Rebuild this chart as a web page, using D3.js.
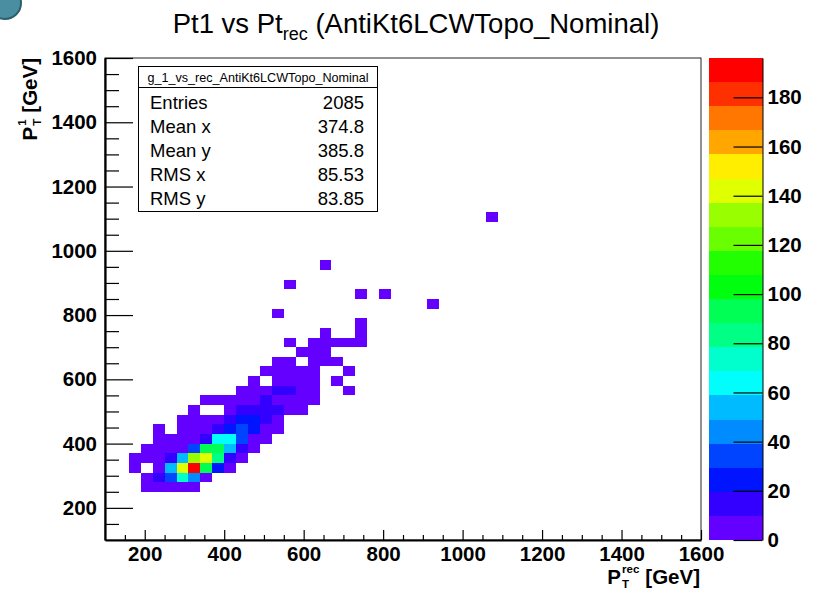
<!DOCTYPE html>
<html lang="en">
<head>
<meta charset="UTF-8">
<title>Pt1 vs Pt rec (AntiKt6LCWTopo_Nominal)</title>
<script src="https://d3js.org/d3.v7.min.js"></script>
<style>
  body { margin: 0; background: #fff; }
  svg text { font-family: "Liberation Sans", Arial, Helvetica, sans-serif; }
</style>
</head>
<body>
<svg width="817" height="591"></svg>
<script>

// bin width in GeV, same on both axes
var binWidth = 30;

// filled bins: [lower x edge, lower y edge, entries]
var cells = [
  [190,250,3],[220,250,5],[250,250,6],[280,250,5],[310,250,3],
  [190,280,6],[220,280,14],[250,280,34],[280,280,72],[310,280,44],[340,280,7],
  [160,310,4],[220,310,7],[250,310,53],[280,310,142],[310,310,196],[340,310,93],[370,310,24],[400,310,8],
  [160,340,3],[190,340,4],[220,340,8],[250,340,15],[280,340,52],[310,340,132],[340,340,140],[370,340,82],[400,340,13],[430,340,6],
  [190,370,2],[220,370,5],[250,370,7],[280,370,9],[310,370,36],[340,370,90],[370,370,94],[400,370,55],[430,370,17],[460,370,5],
  [220,400,3],[250,400,6],[280,400,8],[310,400,9],[340,400,18],[370,400,63],[400,400,65],[430,400,32],[460,400,8],[490,400,3],
  [220,430,2],[280,430,4],[310,430,7],[340,430,9],[370,430,16],[400,430,26],[430,430,31],[460,430,22],[490,430,7],[520,430,3],
  [280,460,3],[310,460,6],[340,460,8],[370,460,9],[400,460,15],[430,460,23],[460,460,21],[490,460,12],[520,460,4],
  [310,490,2],[400,490,6],[430,490,12],[460,490,14],[490,490,11],[520,490,10],[550,490,5],[580,490,3],
  [340,520,2],[370,520,4],[400,520,6],[430,520,8],[460,520,9],[490,520,11],[520,520,8],[550,520,6],[580,520,4],[610,520,2],
  [430,550,3],[460,550,5],[490,550,8],[520,550,11],[550,550,10],[580,550,6],[610,550,3],[700,550,1],
  [460,580,1],[520,580,5],[550,580,7],[580,580,5],[610,580,2],[670,580,1],
  [490,610,2],[520,610,4],[550,610,6],[580,610,3],[610,610,2],[700,610,1],
  [520,640,2],[550,640,3],[610,640,3],[640,640,2],[670,640,1],
  [580,670,2],[610,670,3],[640,670,1],
  [550,700,1],[610,700,2],[640,700,2],[670,700,1],[700,700,1],[730,700,1],
  [640,730,1],[730,730,1],
  [730,760,1],
  [520,790,1],
  [910,820,1],
  [730,850,1],[790,850,1],
  [550,880,1],
  [640,940,1],
  [1060,1090,1]
];

var xTicks = [200, 400, 600, 800, 1000, 1200, 1400, 1600];
var yTicks = [200, 400, 600, 800, 1000, 1200, 1400, 1600];
var zTicks = [0, 20, 40, 60, 80, 100, 120, 140, 160, 180];

var statsTitle = "g_1_vs_rec_AntiKt6LCWTopo_Nominal";
var statsNames = ["Entries", "Mean x", "Mean y", "RMS x", "RMS y"];
var statsValues = ["2085", "374.8", "385.8", "85.53", "83.85"];

var svg = d3.select("svg");

var x = d3.scaleLinear().domain([100, 1600]).range([105, 701]);
var y = d3.scaleLinear().domain([100, 1600]).range([540, 58]);
var zMax = d3.max(cells, d => d[2]);
var z = d3.scaleLinear().domain([0, zMax]).range([540, 58]);

// ROOT default palette: 50 hues from violet to red, 20 contour levels
var nLevels = 20;
function levelColor(j) {
  var idx = Math.floor((j + 0.99) * 50 / nLevels);
  var hue = 280 - (idx + 1) * 280 / 50;
  return d3.hsl(hue, 1, 0.5).toString();
}
function cellColor(n) {
  var j = Math.min(nLevels - 1, Math.floor(0.01 + n * nLevels / zMax));
  return levelColor(j);
}

// corner decoration from the slide
svg.append("circle")
  .attr("cx", 5).attr("cy", 3).attr("r", 16)
  .attr("fill", "#4a8ea2").attr("stroke", "#2b5f6e").attr("stroke-width", 2);

// title
var title = svg.append("text")
  .attr("x", 416).attr("y", 33)
  .attr("text-anchor", "middle")
  .attr("font-size", 27.5);
title.append("tspan").text("Pt1 vs Pt");
title.append("tspan").attr("font-size", 18).attr("dy", 7).text("rec");
title.append("tspan").attr("dy", -7).text(" (AntiKt6LCWTopo_Nominal)");

// bins
svg.append("g")
  .selectAll("rect")
  .data(cells)
  .enter()
  .append("rect")
  .attr("x", d => x(d[0]))
  .attr("y", d => y(d[1] + binWidth))
  .attr("width", d => x(d[0] + binWidth) - x(d[0]))
  .attr("height", d => y(d[1]) - y(d[1] + binWidth))
  .attr("fill", d => cellColor(d[2]))
  .attr("shape-rendering", "crispEdges");

// frame
svg.append("rect")
  .attr("x", x.range()[0]).attr("y", y.range()[1])
  .attr("width", x.range()[1] - x.range()[0])
  .attr("height", y.range()[0] - y.range()[1])
  .attr("fill", "none").attr("stroke", "#222").attr("stroke-width", 1);

var minorVals = d3.range(150, 1600, 50).filter(v => v % 200 !== 0);
var plain = d3.format("d");

function styleAxis(g, size) {
  g.attr("font-family", null).attr("font-size", null);
  g.selectAll("text").attr("font-size", size).attr("font-weight", "bold").attr("fill", "#000");
  g.selectAll(".tick line").attr("stroke", "#000").attr("stroke-width", 1.2);
}

// x axis
svg.append("g")
  .attr("transform", "translate(0," + y.range()[0] + ")")
  .call(d3.axisBottom(x).tickValues(minorVals).tickSize(-5).tickSizeOuter(0).tickFormat(""))
  .call(g => g.select(".domain").remove())
  .call(g => styleAxis(g, 0));
svg.append("g")
  .attr("transform", "translate(0," + y.range()[0] + ")")
  .call(d3.axisBottom(x).tickValues(xTicks).tickFormat(plain).tickSize(-10).tickSizeOuter(0).tickPadding(6))
  .call(g => g.select(".domain").attr("stroke", "#000").attr("stroke-width", 2.2))
  .call(g => styleAxis(g, 20.5));

// y axis
svg.append("g")
  .attr("transform", "translate(" + x.range()[0] + ",0)")
  .call(d3.axisLeft(y).tickValues(minorVals).tickSize(-14).tickSizeOuter(0).tickFormat(""))
  .call(g => g.select(".domain").remove())
  .call(g => styleAxis(g, 0));
svg.append("g")
  .attr("transform", "translate(" + x.range()[0] + ",0)")
  .call(d3.axisLeft(y).tickValues(yTicks).tickFormat(plain).tickSize(-28).tickSizeOuter(0).tickPadding(8))
  .call(g => g.select(".domain").attr("stroke", "#000").attr("stroke-width", 2.2))
  .call(g => styleAxis(g, 20.5));

// axis titles with stacked sub/superscripts, right aligned at the origin
function scriptLabel(parent, parts) {
  var g = parent.append("g").attr("font-weight", "bold");
  var t1 = g.append("text").attr("font-size", 20.5).text(parts.main);
  var w1 = t1.node().getComputedTextLength();
  var tSup = g.append("text").attr("font-size", 11.5).attr("x", w1 + 1).attr("y", -11).text(parts.sup);
  var tSub = g.append("text").attr("font-size", 11.5).attr("x", w1 + 1).attr("y", 4).text(parts.sub);
  var w2 = w1 + 1 + Math.max(tSup.node().getComputedTextLength(), tSub.node().getComputedTextLength());
  var t3 = g.append("text").attr("font-size", 20.5).attr("x", w2 + 6).text(parts.rest);
  var w = w2 + 6 + t3.node().getComputedTextLength();
  g.selectAll("text").attr("transform", "translate(" + (-w) + ",0)");
  return g;
}

var xTitle = svg.append("g").attr("transform", "translate(700,584)");
scriptLabel(xTitle, { main: "P", sup: "rec", sub: "T", rest: "[GeV]" });

var yTitle = svg.append("g").attr("transform", "translate(37,58) rotate(-90)");
scriptLabel(yTitle, { main: "P", sup: "1", sub: "T", rest: "[GeV]" });

// colour palette bar
var barX = 708.5, barW = 54;
svg.append("g")
  .selectAll("rect")
  .data(d3.range(nLevels))
  .enter()
  .append("rect")
  .attr("x", barX)
  .attr("y", j => z((j + 1) * zMax / nLevels))
  .attr("width", barW)
  .attr("height", j => z(j * zMax / nLevels) - z((j + 1) * zMax / nLevels))
  .attr("fill", j => levelColor(j))
  .attr("shape-rendering", "crispEdges");

svg.append("g")
  .attr("transform", "translate(" + (barX + barW) + ",0)")
  .call(d3.axisRight(z).tickValues(zTicks).tickFormat(plain).tickSize(-29).tickSizeOuter(0).tickPadding(5))
  .call(g => g.select(".domain").attr("stroke", "#000").attr("stroke-width", 1))
  .call(g => styleAxis(g, 20.5));

// statistics box
var box = svg.append("g");
box.append("rect")
  .attr("x", 138.5).attr("y", 66.5).attr("width", 239).attr("height", 145)
  .attr("fill", "#fff").attr("stroke", "#000").attr("stroke-width", 1);
box.append("line")
  .attr("x1", 138.5).attr("x2", 377.5).attr("y1", 87.5).attr("y2", 87.5)
  .attr("stroke", "#000");
box.append("text")
  .attr("x", 258).attr("y", 81.5)
  .attr("text-anchor", "middle")
  .attr("font-size", 12.6)
  .text(statsTitle);
box.selectAll(".sname")
  .data(statsNames)
  .enter()
  .append("text")
  .attr("class", "sname")
  .attr("x", 150)
  .attr("y", (d, i) => 108.5 + i * 24)
  .attr("font-size", 18.5)
  .text(d => d);
box.selectAll(".sval")
  .data(statsValues)
  .enter()
  .append("text")
  .attr("class", "sval")
  .attr("x", 364)
  .attr("y", (d, i) => 108.5 + i * 24)
  .attr("text-anchor", "end")
  .attr("font-size", 18.5)
  .text(d => d);

</script>
</body>
</html>
